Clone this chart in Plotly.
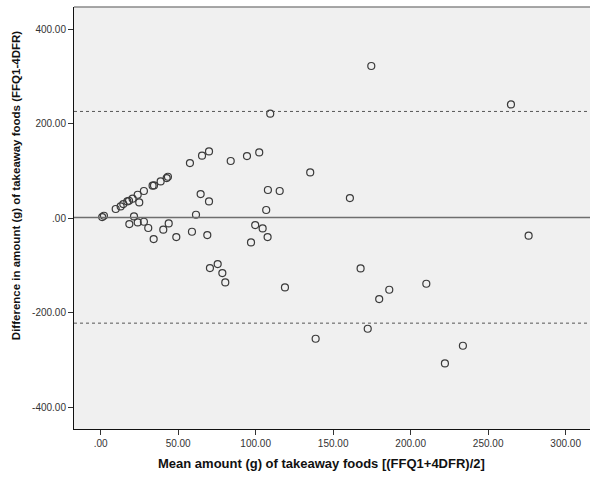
import plotly.graph_objects as go

# Bland-Altman data: mean of FFQ1 and 4DFR (g) vs. difference FFQ1-4DFR (g)
mean_amount = [
    1.0, 2.1, 9.7, 12.9, 14.6, 17.2, 18.3, 20.6, 23.9, 24.9, 27.9, 33.5, 34.4,
    38.7, 42.6, 43.4, 57.6, 61.5,
    21.5, 18.5, 23.9, 27.9, 30.7, 34.2, 40.4, 43.9, 48.8, 58.9,
    65.4, 69.9, 83.9, 94.4, 102.3, 64.5, 69.9, 99.7, 68.8,
    135.2, 107.9, 115.5, 160.8, 106.8, 104.5,
    107.7, 97.0, 70.5, 75.5, 78.5, 80.4, 118.9, 138.7,
    174.6, 264.7, 109.4,
    276.1, 167.7, 186.2, 179.7, 210.1, 172.3, 233.7, 222.1,
]
difference = [
    2.5, 5.3, 19.5, 25.0, 30.0, 35.6, 37.0, 41.3, 49.7, 33.4, 57.6, 68.8, 69.4,
    77.9, 85.0, 87.8, 116.8, 7.4,
    3.8, -12.3, -8.9, -7.4, -20.7, -44.0, -24.3, -11.0, -39.8, -28.6,
    132.3, 141.4, 121.1, 131.6, 139.3, 51.2, 35.6, -14.4, -35.6,
    96.9, 59.7, 57.6, 42.7, 17.4, -21.6,
    -39.8, -51.2, -105.4, -97.0, -116.0, -135.9, -146.5, -255.0,
    322.1, 240.8, 221.2,
    -37.0, -106.2, -151.3, -171.0, -138.6, -233.9, -269.8, -307.3,
]

# Mean difference and 95% limits of agreement
mean_diff = 1.5
loa_upper = 226.0
loa_lower = -222.0

x_ticks = [0, 50, 100, 150, 200, 250, 300]
x_tick_text = [".00", "50.00", "100.00", "150.00", "200.00", "250.00", "300.00"]
y_ticks = [-400, -200, 0, 200, 400]
y_tick_text = ["-400.00", "-200.00", ".00", "200.00", "400.00"]

fig = go.Figure()

fig.add_trace(go.Scatter(
    x=mean_amount, y=difference, mode="markers",
    marker=dict(symbol="circle-open", size=7, color="#3a3a3a",
                line=dict(width=1.2, color="#3a3a3a")),
    hoverinfo="skip", showlegend=False,
))

fig.add_hline(y=mean_diff, line=dict(color="#6e6e6e", width=1.5))
fig.add_hline(y=loa_upper, line=dict(color="#555555", width=1, dash="dot"))
fig.add_hline(y=loa_lower, line=dict(color="#555555", width=1, dash="dot"))

# top border of the plotting frame
fig.add_shape(type="line", xref="paper", yref="paper", x0=0, x1=1, y0=1, y1=1,
              line=dict(color="#8a8a8a", width=1.5))

tick_font = dict(family="Liberation Sans, Arial, sans-serif", size=10, color="#333333")
x_title_font = dict(family="Liberation Sans, Arial, sans-serif", size=13, color="#111111")
y_title_font = dict(family="Liberation Sans, Arial, sans-serif", size=11.5, color="#111111")

fig.update_layout(
    width=590, height=479,
    margin=dict(l=74, r=0, t=7, b=50),
    paper_bgcolor="white", plot_bgcolor="#f0f0f0",
    xaxis=dict(range=[-17.2, 315.7], tickvals=x_ticks, ticktext=x_tick_text,
               showgrid=False, zeroline=False, showline=True, linecolor="#111111",
               linewidth=1, ticks="outside", ticklen=5, tickcolor="#333333",
               tickfont=tick_font),
    yaxis=dict(range=[-446, 447], tickvals=y_ticks, ticktext=y_tick_text,
               showgrid=False, zeroline=False, showline=True, linecolor="#111111",
               linewidth=1, ticks="outside", ticklen=5, tickcolor="#333333",
               tickfont=tick_font),
    annotations=[
        dict(text="<b>Mean amount (g) of takeaway foods [(FFQ1+4DFR)/2]</b>",
             xref="paper", yref="paper", x=0.48, y=-0.0806, xanchor="center",
             yanchor="middle", showarrow=False, font=x_title_font),
        dict(text="<b>Difference in amount (g) of takeaway foods (FFQ1-4DFR)</b>",
             xref="paper", yref="paper", x=-0.112, y=0.576, xanchor="center",
             yanchor="middle", textangle=-90, showarrow=False, font=y_title_font),
    ],
)

fig.write_html("out.html")
